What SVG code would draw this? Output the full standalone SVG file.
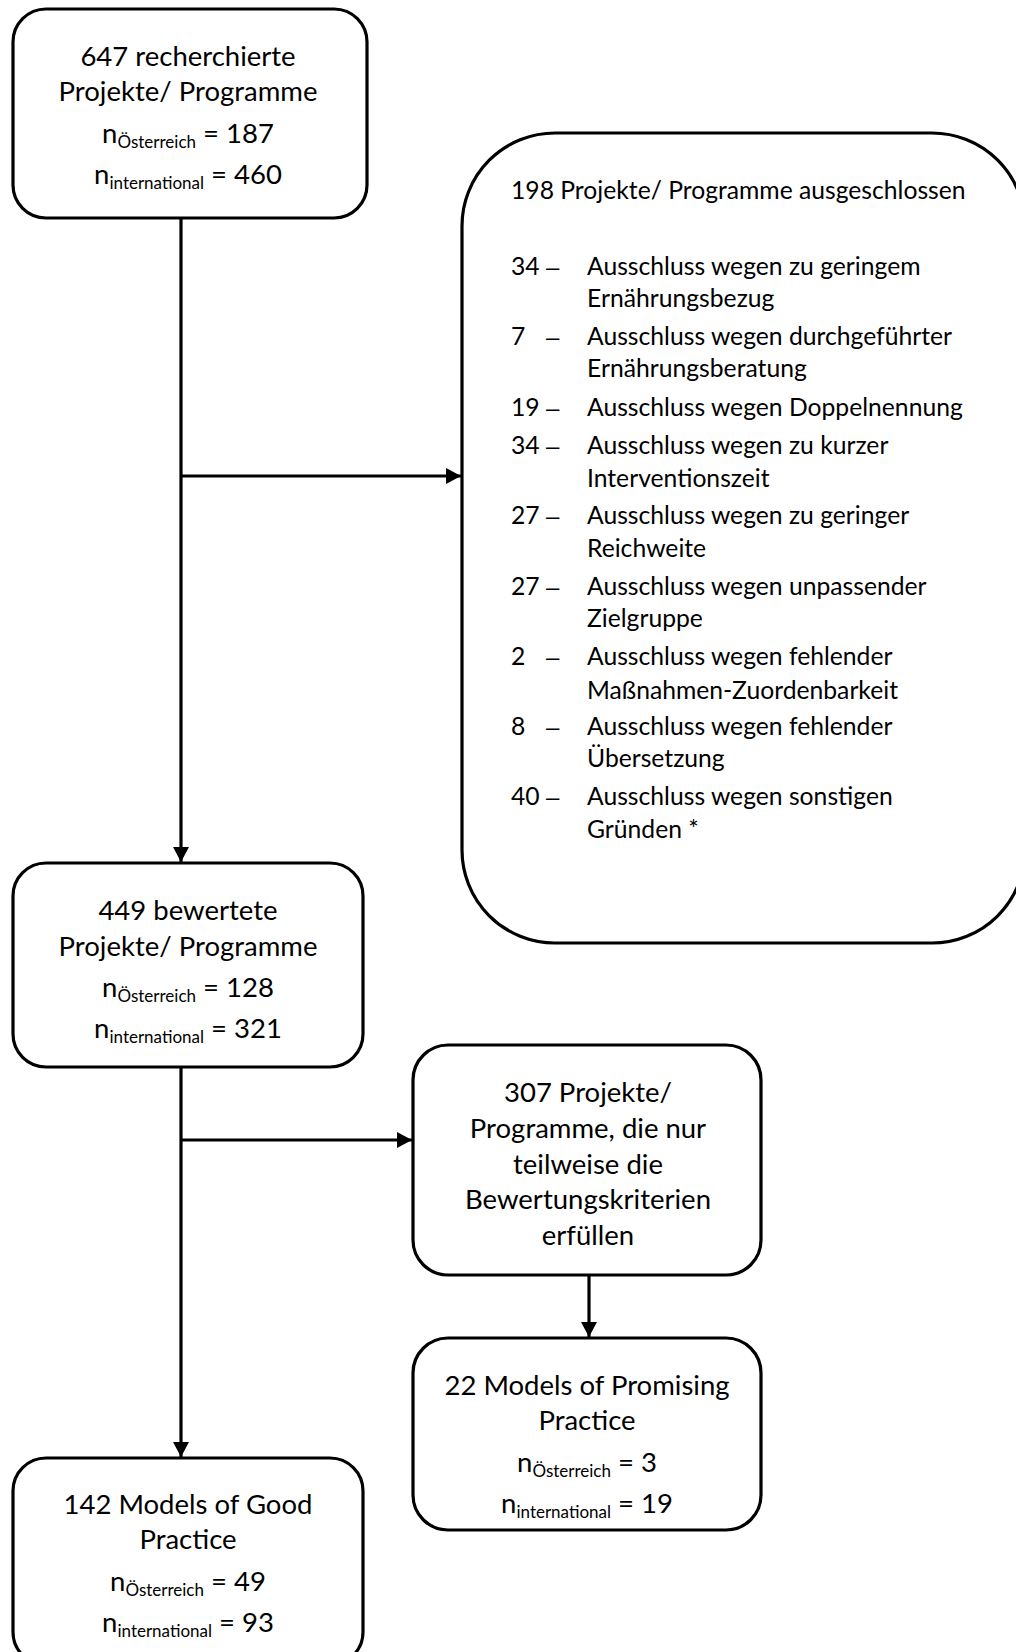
<svg xmlns="http://www.w3.org/2000/svg" width="1016" height="1652" viewBox="0 0 1016 1652">
<style>
.box{fill:#fff;stroke:#000;stroke-width:3.2}
.t{font-family:Lato,"Open Sans","Liberation Sans",sans-serif;font-size:27.5px;fill:#000;text-anchor:middle}
.l{font-family:Lato,"Open Sans","Liberation Sans",sans-serif;font-size:24.7px;fill:#000}
.d{font-family:"Liberation Sans",sans-serif;font-size:24px;fill:#000}
.sub{font-size:17px}
.con{fill:none;stroke:#000;stroke-width:3.2}
</style>
<defs>
<marker id="ah" markerWidth="16" markerHeight="16" refX="15" refY="8" orient="auto" markerUnits="userSpaceOnUse">
<path d="M0,0 L15,8 L0,16 Z" fill="#000"/>
</marker>
</defs>
<rect width="1016" height="1652" fill="#fff"/>
<g id="connectors">
<line class="con" x1="181" y1="218" x2="181" y2="862" marker-end="url(#ah)"/>
<line class="con" x1="181" y1="476" x2="461" y2="476" marker-end="url(#ah)"/>
<line class="con" x1="181" y1="1067" x2="181" y2="1457" marker-end="url(#ah)"/>
<line class="con" x1="181" y1="1140" x2="412" y2="1140" marker-end="url(#ah)"/>
<line class="con" x1="589" y1="1275" x2="589" y2="1337" marker-end="url(#ah)"/>
</g>
<g id="node-recherchiert">
<rect class="box" x="13" y="9" width="354" height="209" rx="33"/>
<text class="t" x="188" y="66">647 recherchierte</text>
<text class="t" x="188" y="101">Projekte/ Programme</text>
<text class="t" x="188" y="143">n<tspan class="sub" dy="5">Österreich</tspan><tspan dy="-5"> = 187</tspan></text>
<text class="t" x="188" y="184">n<tspan class="sub" dy="5">international</tspan><tspan dy="-5"> = 460</tspan></text>
</g>
<g id="node-ausgeschlossen">
<rect class="box" x="462" y="133" width="563" height="810" rx="93"/>
<text class="l" x="511" y="199">198 Projekte/ Programme ausgeschlossen</text>
<text class="l" x="511" y="275">34</text><text class="d" x="546" y="275">–</text><text class="l" x="587" y="275">Ausschluss wegen zu geringem</text>
<text class="l" x="587" y="307">Ernährungsbezug</text>
<text class="l" x="511" y="345">7</text><text class="d" x="546" y="345">–</text><text class="l" x="587" y="345">Ausschluss wegen durchgeführter</text>
<text class="l" x="587" y="377">Ernährungsberatung</text>
<text class="l" x="511" y="416">19</text><text class="d" x="546" y="416">–</text><text class="l" x="587" y="416">Ausschluss wegen Doppelnennung</text>
<text class="l" x="511" y="454">34</text><text class="d" x="546" y="454">–</text><text class="l" x="587" y="454">Ausschluss wegen zu kurzer</text>
<text class="l" x="587" y="487">Interventionszeit</text>
<text class="l" x="511" y="524">27</text><text class="d" x="546" y="524">–</text><text class="l" x="587" y="524">Ausschluss wegen zu geringer</text>
<text class="l" x="587" y="557">Reichweite</text>
<text class="l" x="511" y="595">27</text><text class="d" x="546" y="595">–</text><text class="l" x="587" y="595">Ausschluss wegen unpassender</text>
<text class="l" x="587" y="627">Zielgruppe</text>
<text class="l" x="511" y="665">2</text><text class="d" x="546" y="665">–</text><text class="l" x="587" y="665">Ausschluss wegen fehlender</text>
<text class="l" x="587" y="699">Maßnahmen-Zuordenbarkeit</text>
<text class="l" x="511" y="735">8</text><text class="d" x="546" y="735">–</text><text class="l" x="587" y="735">Ausschluss wegen fehlender</text>
<text class="l" x="587" y="767">Übersetzung</text>
<text class="l" x="511" y="805">40</text><text class="d" x="546" y="805">–</text><text class="l" x="587" y="805">Ausschluss wegen sonstigen</text>
<text class="l" x="587" y="838">Gründen *</text>
</g>
<g id="node-bewertet">
<rect class="box" x="13" y="863" width="350" height="204" rx="33"/>
<text class="t" x="188" y="920">449 bewertete</text>
<text class="t" x="188" y="956">Projekte/ Programme</text>
<text class="t" x="188" y="997">n<tspan class="sub" dy="5">Österreich</tspan><tspan dy="-5"> = 128</tspan></text>
<text class="t" x="188" y="1038">n<tspan class="sub" dy="5">international</tspan><tspan dy="-5"> = 321</tspan></text>
</g>
<g id="node-teilweise">
<rect class="box" x="413" y="1045" width="348" height="230" rx="35"/>
<text class="t" x="588" y="1102">307 Projekte/</text>
<text class="t" x="588" y="1138">Programme, die nur</text>
<text class="t" x="588" y="1174">teilweise die</text>
<text class="t" x="588" y="1209">Bewertungskriterien</text>
<text class="t" x="588" y="1245">erfüllen</text>
</g>
<g id="node-promising">
<rect class="box" x="413" y="1338" width="348" height="192" rx="35"/>
<text class="t" x="587" y="1395">22 Models of Promising</text>
<text class="t" x="587" y="1430">Practice</text>
<text class="t" x="587" y="1472">n<tspan class="sub" dy="5">Österreich</tspan><tspan dy="-5"> = 3</tspan></text>
<text class="t" x="587" y="1513">n<tspan class="sub" dy="5">international</tspan><tspan dy="-5"> = 19</tspan></text>
</g>
<g id="node-good">
<rect class="box" x="13" y="1458" width="350" height="207" rx="33"/>
<text class="t" x="188" y="1514">142 Models of Good</text>
<text class="t" x="188" y="1549">Practice</text>
<text class="t" x="188" y="1591">n<tspan class="sub" dy="5">Österreich</tspan><tspan dy="-5"> = 49</tspan></text>
<text class="t" x="188" y="1632">n<tspan class="sub" dy="5">international</tspan><tspan dy="-5"> = 93</tspan></text>
</g>
</svg>
